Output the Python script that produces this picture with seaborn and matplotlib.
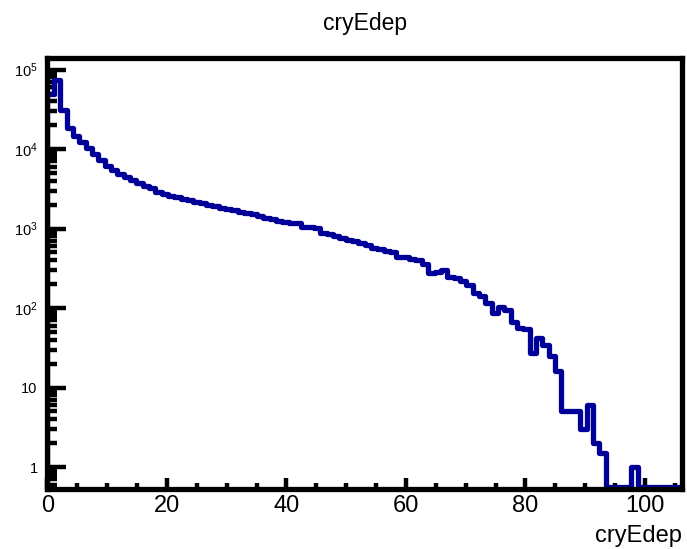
import numpy as np
import pandas as pd
import seaborn as sns
import matplotlib
matplotlib.use("Agg")
from matplotlib import pyplot as plt
from matplotlib.ticker import FixedLocator, FixedFormatter, MultipleLocator, LogLocator, NullFormatter

# ------- data -------

title = "cryEdep"
x_label = "cryEdep"
x_min, x_max = 0.0, 106.2  # histogram range, 100 bins

counts = [
    50000, 75000, 31000, 18400, 14500, 12300, 10300, 8700, 7300, 6100,
    5500, 4900, 4450, 4100, 3700, 3400, 3200, 2900, 2700, 2600,
    2500, 2350, 2280, 2150, 2100, 1980, 1920, 1820, 1760, 1700,
    1620, 1570, 1520, 1430, 1350, 1320, 1250, 1210, 1170, 1170,
    1050, 1050, 1010, 870, 850, 800, 760, 715, 695, 660,
    620, 570, 550, 520, 505, 435, 435, 413, 400, 356,
    276, 283, 300, 245, 238, 218, 195, 155, 141, 116,
    87, 103, 94, 66, 56, 55, 27, 42, 34, 25,
    16, 5, 5, 5, 3, 6, 2, 1.5, 0, 0,
    0, 0, 1, 0, 0, 0, 0, 0, 0, 0,
]

x_ticks = [0, 20, 40, 60, 80, 100]
y_ticks = [1, 10, 100, 1000, 10000, 100000]
y_tick_labels = ["1", "10", "10$^{2}$", "10$^{3}$", "10$^{4}$", "10$^{5}$"]
y_min, y_max = 0.529, 1.40e5

# --------------------------------------------

sns.set_style("white")
plt.rcParams['font.family'] = ['Liberation Sans', 'DejaVu Sans']
plt.rcParams['mathtext.fontset'] = 'custom'
plt.rcParams['mathtext.rm'] = 'Liberation Sans'
plt.rcParams['mathtext.it'] = 'Liberation Sans'
plt.rcParams['text.color'] = 'black'
plt.rcParams['xtick.color'] = 'black'
plt.rcParams['ytick.color'] = 'black'

edges = np.linspace(x_min, x_max, len(counts) + 1)
heights = np.maximum(np.array(counts, dtype=float), 0.56)  # empty bins drawn on the floor, like ROOT

# step outline: rise from the floor at the first edge, then one step per bin
tableau = pd.DataFrame({
    "x": np.r_[edges[0], edges],
    "y": np.r_[y_min, heights, heights[-1]],
})

fig = plt.figure(figsize=(6.87, 5.49), dpi=100)
ax = fig.add_axes([0.0691, 0.1093, 0.9236, 0.7851])

sns.lineplot(data=tableau, x="x", y="y", ax=ax, estimator=None, sort=False,
             drawstyle="steps-post", color="#000099", linewidth=3.8)

ax.set_yscale("log")
ax.set_xlim(x_min, x_max)
ax.set_ylim(y_min, y_max)

ax.xaxis.set_major_locator(FixedLocator(x_ticks))
ax.xaxis.set_minor_locator(MultipleLocator(5))
ax.yaxis.set_major_locator(FixedLocator(y_ticks))
ax.yaxis.set_major_formatter(FixedFormatter(y_tick_labels))
ax.yaxis.set_minor_locator(LogLocator(base=10, subs=np.arange(2, 10)))
ax.yaxis.set_minor_formatter(NullFormatter())

ax.tick_params(axis="x", which="major", direction="in", length=8, width=3.2, labelsize=17, pad=4,
               bottom=True, top=False, colors="black")
ax.tick_params(axis="x", which="minor", direction="in", length=4, width=3.2, bottom=True, top=False,
               colors="black")
ax.tick_params(axis="y", which="major", direction="in", length=14, width=3.2, labelsize=10.5, pad=7,
               left=True, right=False, colors="black")
ax.tick_params(axis="y", which="minor", direction="in", length=7, width=3.2, left=True, right=False,
               colors="black")

for s in ax.spines.values():
    s.set_linewidth(3.8)
    s.set_color("black")

ax.set_xlabel("")
ax.set_ylabel("")

fig.text(0.531, 0.958, title, ha="center", va="center", fontsize=16.5)
fig.text(0.9927, 0.0128, x_label, ha="right", va="baseline", fontsize=17)

plt.savefig("out.png", dpi=100)
